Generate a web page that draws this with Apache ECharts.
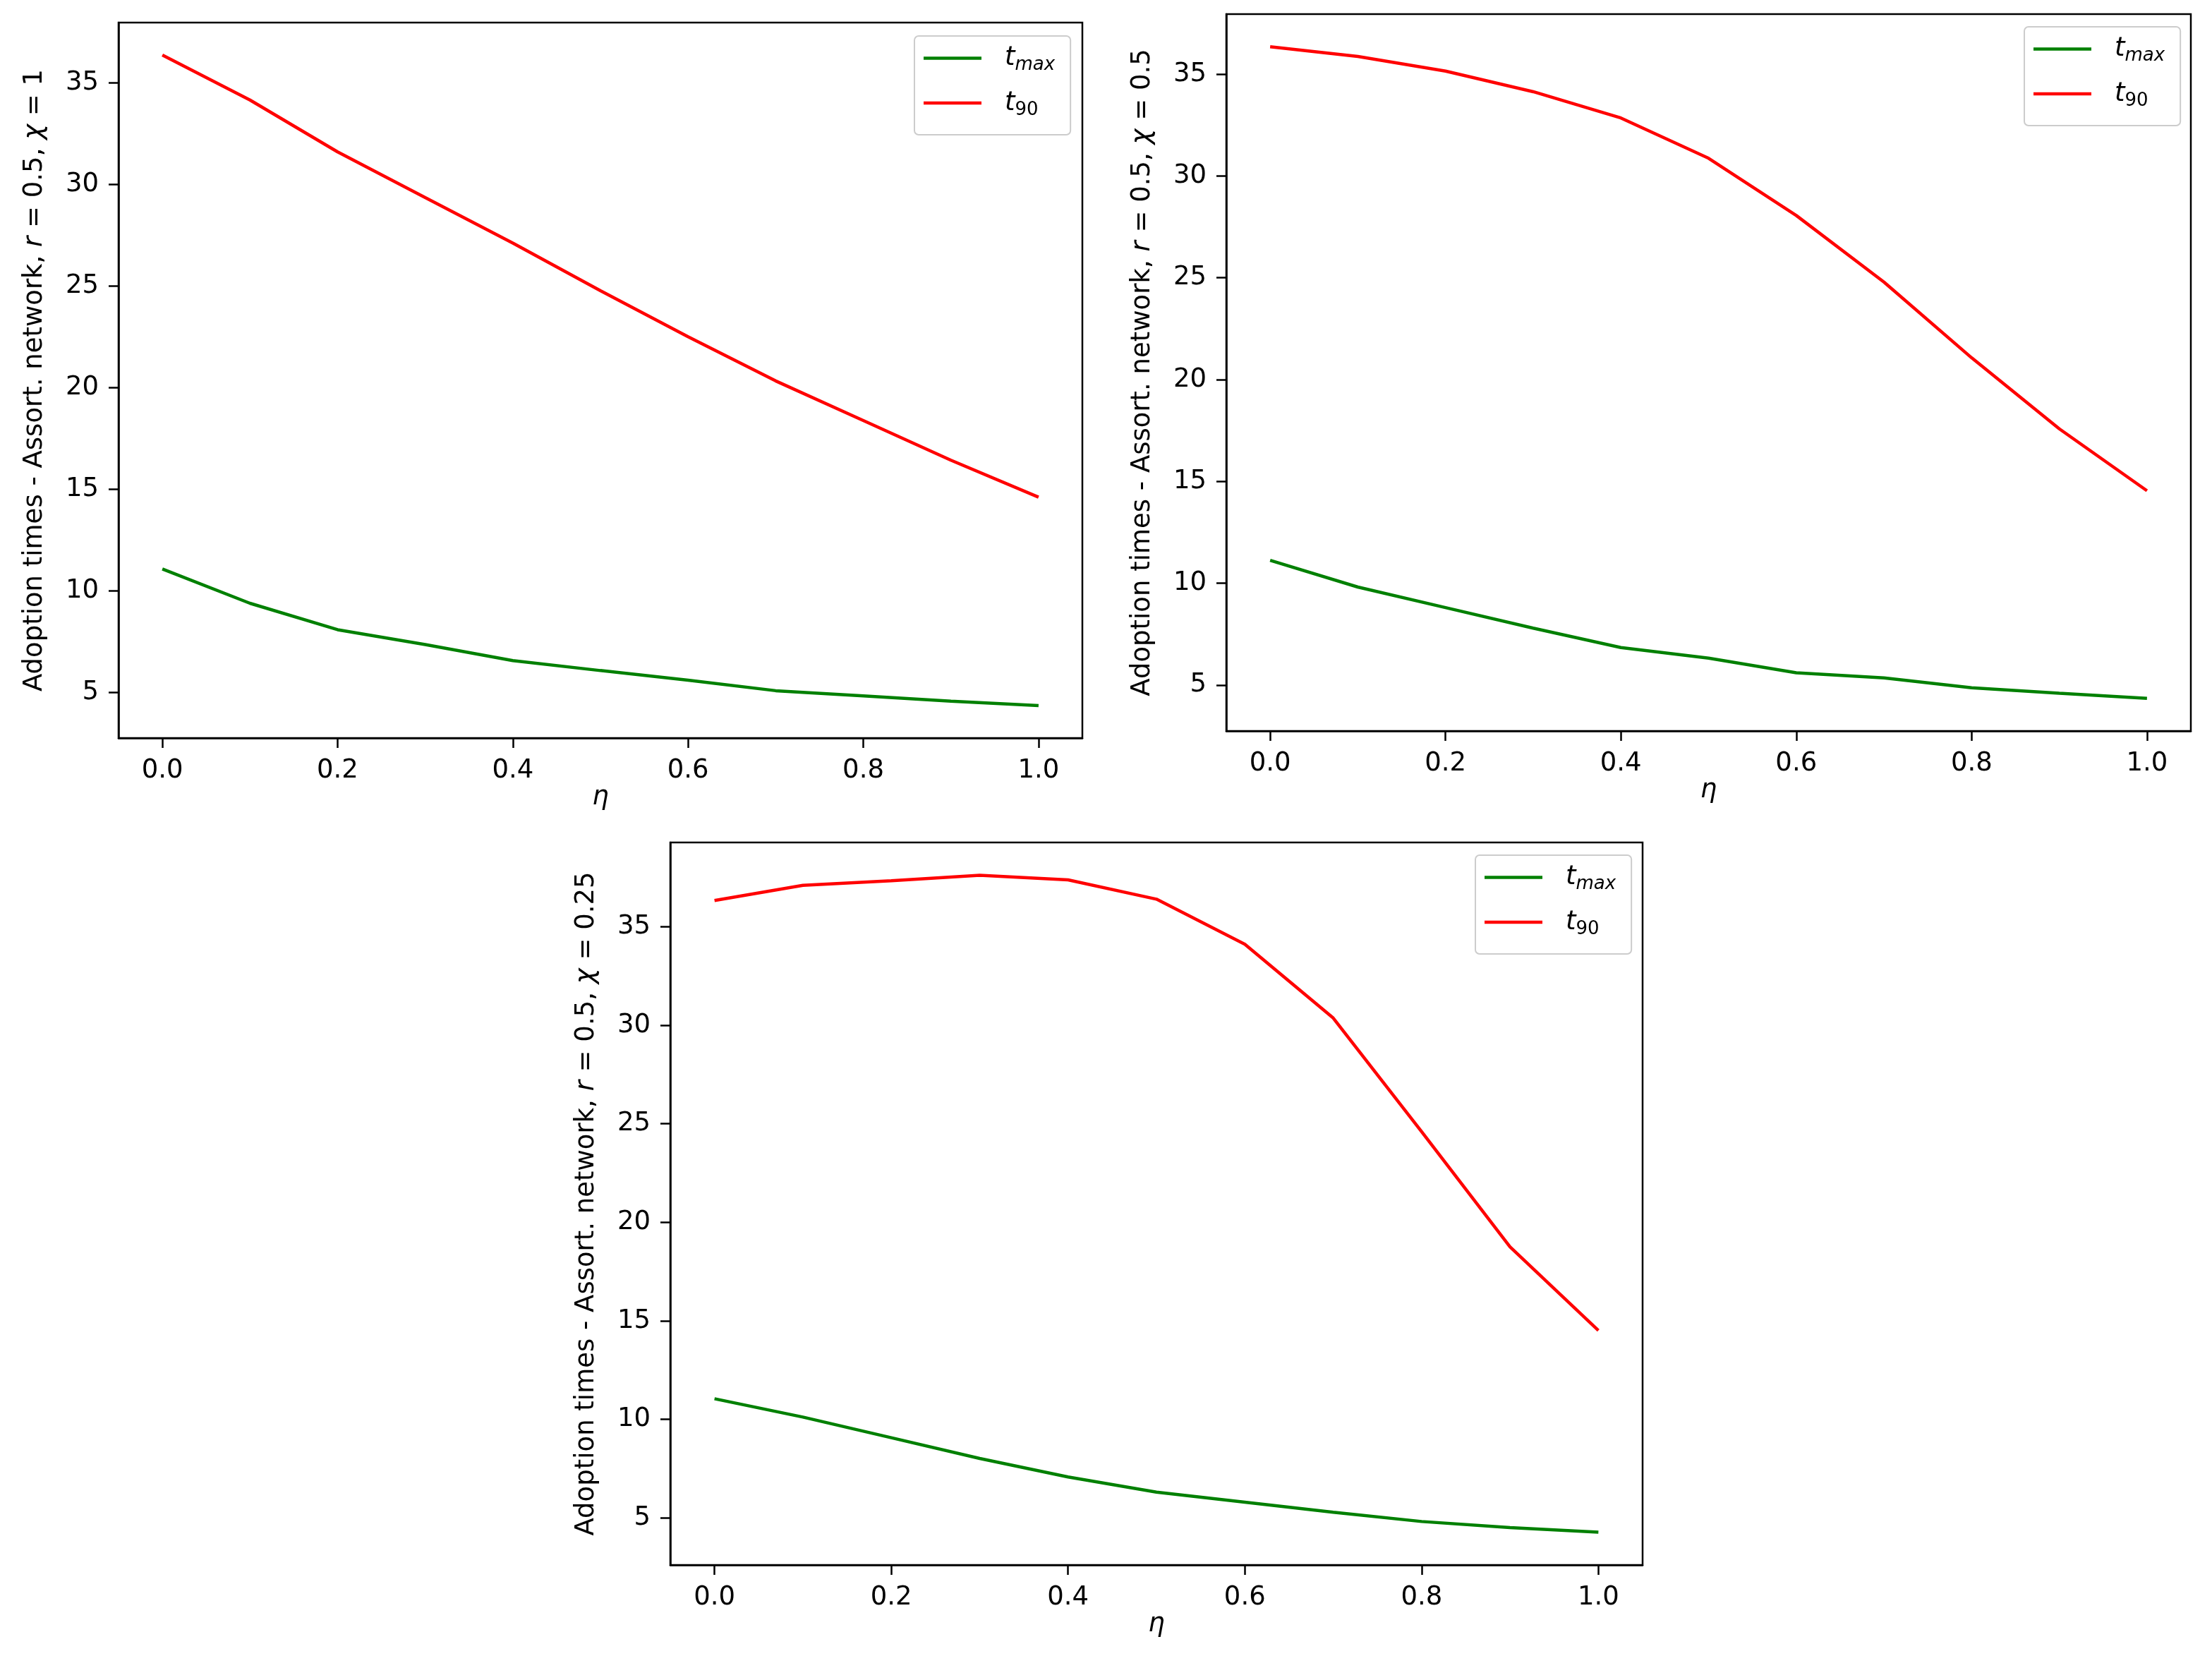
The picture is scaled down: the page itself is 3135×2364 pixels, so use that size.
<!DOCTYPE html>
<html>
<head>
<meta charset="utf-8">
<script src="https://cdn.jsdelivr.net/npm/echarts@6/dist/echarts.min.js"></script>
<style>
html,body{margin:0;padding:0;background:#fff;}
#chart{width:3135px;height:2364px;}
</style>
</head>
<body>
<div id="chart"></div>
<script>
const eta = [0.0, 0.1, 0.2, 0.3, 0.4, 0.5, 0.6, 0.7, 0.8, 0.9, 1.0];

const tmaxChi1 = [11.07, 9.38, 8.08, 7.35, 6.56, 6.07, 5.60, 5.08, 4.82, 4.56, 4.35];
const t90Chi1 = [36.35, 34.14, 31.59, 29.34, 27.10, 24.76, 22.49, 20.32, 18.37, 16.42, 14.60];

const tmaxChi05 = [11.12, 9.81, 8.80, 7.79, 6.84, 6.32, 5.60, 5.35, 4.86, 4.59, 4.34];
const t90Chi05 = [36.35, 35.87, 35.15, 34.14, 32.85, 30.87, 28.06, 24.79, 21.07, 17.58, 14.54];

const tmaxChi025 = [11.05, 10.12, 9.07, 8.02, 7.08, 6.31, 5.80, 5.29, 4.82, 4.51, 4.28];
const t90Chi025 = [36.33, 37.10, 37.33, 37.61, 37.38, 36.40, 34.11, 30.37, 24.60, 18.76, 14.51];

const chiLabels = ['1', '0.5', '0.25'];
const xTicks = [0.0, 0.2, 0.4, 0.6, 0.8, 1.0];
const yTicks = [5, 10, 15, 20, 25, 30, 35];
const seriesNames = ['tmax', 't90'];

const FONT = 'DejaVu Sans';
const FS = 37;

const panels = [
  {tmax: tmaxChi1, t90: t90Chi1, chi: chiLabels[0], grid: {left: 168, top: 32, width: 1366, height: 1014}, legend: {left: 1296, top: 51}},
  {tmax: tmaxChi05, t90: t90Chi05, chi: chiLabels[1], grid: {left: 1738, top: 20, width: 1367, height: 1016}, legend: {left: 2869, top: 38}},
  {tmax: tmaxChi025, t90: t90Chi025, chi: chiLabels[2], grid: {left: 950, top: 1194, width: 1378, height: 1024}, legend: {left: 2091, top: 1212}}
];

const grids = [], xAxes = [], yAxes = [], series = [], legends = [];

function pad(v) {
  const r = v.max - v.min;
  return {lo: v.min - 0.05 * r, hi: v.max + 0.05 * r};
}

panels.forEach((p, k) => {
  grids.push(Object.assign({show: true, borderColor: '#000', borderWidth: 2.5, backgroundColor: '#fff', containLabel: false}, p.grid));
  xAxes.push({
    type: 'value', gridIndex: k,
    min: -0.05, max: 1.05,
    name: 'η', nameLocation: 'middle', nameGap: 66,
    nameTextStyle: {fontFamily: FONT, fontSize: FS, fontStyle: 'italic', color: '#000'},
    axisLine: {show: true, onZero: false, lineStyle: {color: '#000', width: 2.5}},
    axisTick: {show: true, inside: false, length: 14, customValues: xTicks, lineStyle: {color: '#000', width: 2.5}},
    axisLabel: {show: true, margin: 28, customValues: xTicks, fontFamily: FONT, fontSize: FS, color: '#000',
      formatter: v => Number(v).toFixed(1)},
    splitLine: {show: false}
  });
  yAxes.push({
    type: 'value', gridIndex: k,
    min: v => pad(v).lo, max: v => pad(v).hi,
    name: '{n|Adoption times - Assort. network, }{i|r}{n| = 0.5, }{i|χ}{n| = ' + p.chi + '}',
    nameLocation: 'middle', nameRotate: 90, nameGap: 100,
    nameTextStyle: {
      fontFamily: FONT, fontSize: FS, color: '#000',
      rich: {
        n: {fontFamily: FONT, fontSize: FS, color: '#000'},
        i: {fontFamily: FONT, fontSize: FS, color: '#000', fontStyle: 'italic'}
      }
    },
    axisLine: {show: true, onZero: false, lineStyle: {color: '#000', width: 2.5}},
    axisTick: {show: true, inside: false, length: 14, customValues: yTicks, lineStyle: {color: '#000', width: 2.5}},
    axisLabel: {show: true, margin: 28, customValues: yTicks, fontFamily: FONT, fontSize: FS, color: '#000',
      formatter: v => String(Math.round(v))},
    splitLine: {show: false}
  });
  series.push({
    name: seriesNames[0], type: 'line', xAxisIndex: k, yAxisIndex: k,
    data: eta.map((x, i) => [x, p.tmax[i]]),
    symbol: 'none', showSymbol: false, smooth: false,
    lineStyle: {color: '#008000', width: 4.5}, itemStyle: {color: '#008000'},
    animation: false
  });
  series.push({
    name: seriesNames[1], type: 'line', xAxisIndex: k, yAxisIndex: k,
    data: eta.map((x, i) => [x, p.t90[i]]),
    symbol: 'none', showSymbol: false, smooth: false,
    lineStyle: {color: '#ff0000', width: 4.5}, itemStyle: {color: '#ff0000'},
    animation: false
  });
  legends.push({
    left: p.legend.left, top: p.legend.top,
    orient: 'vertical',
    data: seriesNames.map(n => ({name: n, icon: 'rect'})),
    padding: [13, 22, 22, 13],
    itemGap: 22, itemWidth: 82, itemHeight: 4.5,
    borderColor: '#cccccc', borderWidth: 2, borderRadius: 6,
    backgroundColor: 'rgba(255,255,255,0.8)',
    selectedMode: false,
    formatter: name => name === 'tmax' ? '{t|t}{s|max}' : '{t|t}{d|90}',
    textStyle: {
      fontFamily: FONT, fontSize: FS, color: '#000',
      rich: {
        t: {fontFamily: FONT, fontSize: FS, fontStyle: 'italic', color: '#000', lineHeight: 46, verticalAlign: 'middle', padding: [0, 0, 0, 28]},
        s: {fontFamily: FONT, fontSize: 26, fontStyle: 'italic', color: '#000', lineHeight: 24, verticalAlign: 'bottom'},
        d: {fontFamily: FONT, fontSize: 26, color: '#000', lineHeight: 24, verticalAlign: 'bottom'}
      }
    }
  });
});

const chart = echarts.init(document.getElementById('chart'), null, {renderer: 'canvas'});
chart.setOption({
  backgroundColor: '#fff',
  animation: false,
  grid: grids,
  xAxis: xAxes,
  yAxis: yAxes,
  legend: legends,
  series: series
});
</script>
</body>
</html>
